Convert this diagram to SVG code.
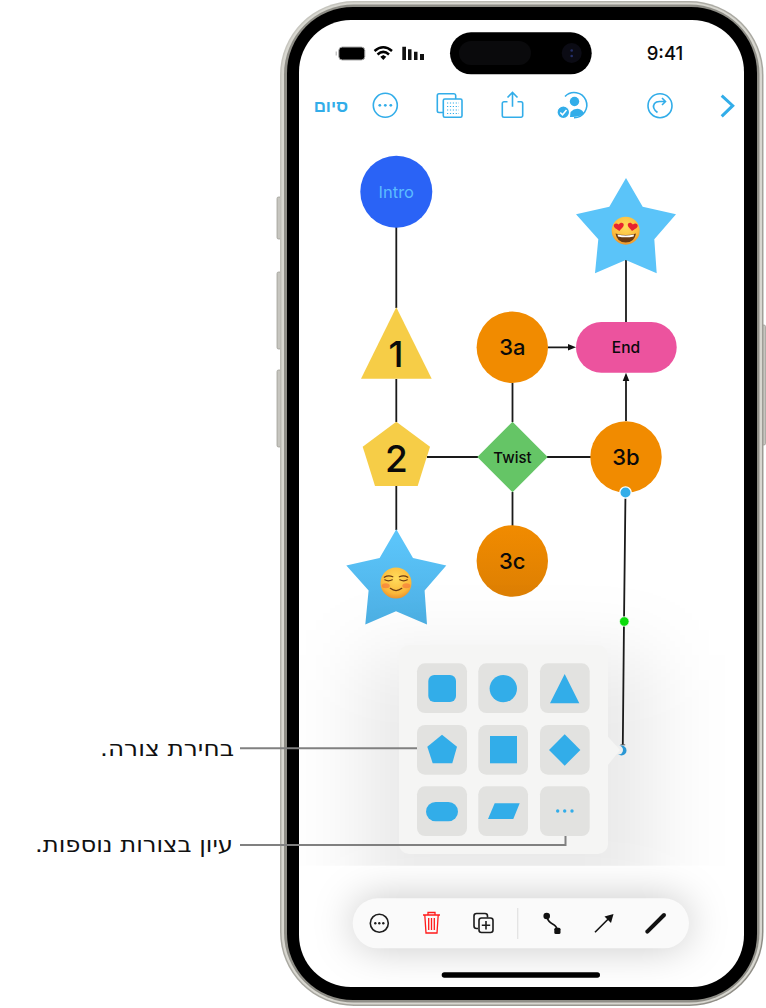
<svg xmlns="http://www.w3.org/2000/svg" width="766" height="1008" viewBox="0 0 766 1008">
<style>
.ln{stroke:#1a1a1a;stroke-width:1.8;fill:none}
.lead{stroke:#808080;stroke-width:2;fill:none}
.lbl{font-family:Inter,"Liberation Sans",sans-serif;text-anchor:middle;fill:#0a0a0a}
.he{font-family:"DejaVu Sans",sans-serif;font-size:22px;fill:#111;direction:rtl;text-anchor:start}
.btn{fill:#e2e2e0}
.ic{fill:#32ade9}
.ol{fill:none;stroke:#32ade9;stroke-width:1.6}
.bk{fill:none;stroke:#1c1c1c;stroke-width:1.6}
.star{fill:#5bc4f9}
.side{fill:#c6c5bf;stroke:#97958e;stroke-width:.7}
</style>
<defs>
<linearGradient id="metal" x1="0" y1="0" x2="1" y2="1">
<stop offset="0" stop-color="#c9c8c1"/><stop offset=".5" stop-color="#a9a8a1"/><stop offset="1" stop-color="#8d8b84"/>
</linearGradient>
<linearGradient id="starFade" gradientUnits="userSpaceOnUse" x1="0" y1="190" x2="0" y2="275">
<stop offset="0" stop-color="#5bc4f9"/><stop offset="1" stop-color="#4cafe4"/>
</linearGradient>
<linearGradient id="c3Fade" x1="0" y1="0" x2="0" y2="1">
<stop offset="0" stop-color="#f18b00"/><stop offset="1" stop-color="#dd7f02"/>
</linearGradient>
<radialGradient id="emo" cx=".5" cy=".35" r=".7">
<stop offset="0" stop-color="#ffdc5c"/><stop offset=".7" stop-color="#fcb93a"/><stop offset="1" stop-color="#e8892a"/>
</radialGradient>
<filter id="sh1" x="-80%" y="-80%" width="260%" height="260%"><feGaussianBlur stdDeviation="38"/></filter>
<filter id="sh2" x="-30%" y="-150%" width="160%" height="400%"><feGaussianBlur stdDeviation="20"/></filter>
<clipPath id="upper"><path d="M299 72a52 52 0 0 1 52-52h341a52 52 0 0 1 52 52V865.700H299Z"/></clipPath>
<clipPath id="lower"><path d="M299 865.700H744V935a52 52 0 0 1-52 52H351a52 52 0 0 1-52-52Z"/></clipPath>
<path id="starP" d="M626 178 642.700 206.700 676 214.300 654.300 239.300 656.700 273.300 625.700 260 595 273.300 598.300 239.300 576 214.300 609.300 206.700Z"/>
<path id="heart" d="M0 4C-1.800 2.300-5 .6-5-1.700-5-3.800-2.200-4.800 0-2.500 2.200-4.800 5-3.800 5-1.700 5 .6 1.800 2.300 0 4Z"/>
</defs>

<g id="phone">
<rect class="side" x="277" y="197" width="5" height="42" rx="1.500"/>
<rect class="side" x="277" y="272" width="5" height="77" rx="1.500"/>
<rect class="side" x="277" y="370" width="5" height="77" rx="1.500"/>
<rect class="side" x="761" y="325" width="4.500" height="120" rx="1.500"/>
<rect x="280" y="1" width="483.500" height="1005" rx="74" fill="url(#metal)"/>
<rect x="281.500" y="2.500" width="480.500" height="1002" rx="72.500" fill="#d8d7d0"/>
<rect x="284" y="4.500" width="475.500" height="998" rx="70" fill="#8f8e87"/>
<rect x="287" y="7" width="470" height="993" rx="66" fill="#000"/>
<rect x="299" y="20" width="445" height="967" rx="52" fill="#fff"/>
</g>

<g id="connectors">
<path class="ln" d="M396.300 227V308M396.300 379V422M396.300 486V530M427 457H478M547 457H591M512.500 383V422M512.500 492V526M626 260V322M548 347.300H568M626 421V381"/>
<path d="M576 347.300 568 344V350.600ZM626 372.700 622.700 381H629.300Z" fill="#111"/>
</g>

<g id="node-intro"><circle cx="396.300" cy="191.700" r="36" fill="#2a63f6"/><text class="lbl" x="396.300" y="198" font-size="16.500" style="fill:#5cbcff">Intro</text></g>
<g id="node-1"><path d="M396.300 307.300 431.700 378.700H361Z" fill="#f6cd47"/><text class="lbl" x="396" y="367" font-size="36" font-weight="550">1</text></g>
<g id="node-2"><path d="M396.300 421.700 430 446.700 417.700 486H375L362.700 446.700Z" fill="#f6cd47"/><text class="lbl" x="396.300" y="472" font-size="37" font-weight="550">2</text></g>
<g id="node-3a"><circle cx="512.300" cy="347.300" r="35.700" fill="#f18b00"/><text class="lbl" x="512.300" y="355" font-size="22" font-weight="550">3a</text></g>
<g id="node-3b"><circle cx="626" cy="457" r="35.700" fill="#f18b00"/><text class="lbl" x="626" y="465" font-size="22" font-weight="550">3b</text></g>
<g id="node-3c"><circle cx="512.300" cy="561" r="35.700" fill="url(#c3Fade)"/><text class="lbl" x="512.300" y="569" font-size="22" font-weight="550">3c</text></g>
<g id="node-twist"><path d="M512.500 421.700 547.700 457 512.500 492.300 477.300 457Z" fill="#65c566"/><text class="lbl" x="512.500" y="462.500" font-size="15" font-weight="550">Twist</text></g>
<g id="node-end"><rect x="576" y="322" width="100.700" height="50.700" rx="25.300" fill="#ec539e"/><text class="lbl" x="626" y="353" font-size="15.500" font-weight="550">End</text></g>
<g id="node-star-top">
<use href="#starP" class="star"/>
<circle cx="625.700" cy="230.700" r="14" fill="url(#emo)"/>
<use href="#heart" x="619" y="227" fill="#e8232f" transform="rotate(-8 619 227)"/>
<use href="#heart" x="632.500" y="227" fill="#e8232f" transform="rotate(8 632.500 227)"/>
<path d="M615.500 233.500Q625.700 236.500 636 233.500 634.500 242.500 625.700 242.500 617 242.500 615.500 233.500Z" fill="#6b3a12"/>
<path d="M617.500 234.500Q625.700 236.500 634 234.500L633.600 236.500Q625.700 238.200 618 236.500Z" fill="#fff"/>
</g>
<g id="node-star-bottom" transform="translate(-229.700 351.300)">
<use href="#starP" fill="url(#starFade)"/>
<circle cx="625.700" cy="231.700" r="15.500" fill="url(#emo)"/>
<path d="M614 226Q618 223.500 622.500 225.500M629 225.500Q633.500 223.500 637.500 226M614.500 228.500Q618 230.500 622 228.500M629.500 228.500Q633.500 230.500 637 228.500M620 237Q625.700 241.500 631.500 237" fill="none" stroke="#6b3a12" stroke-width="1.200" stroke-linecap="round"/>
<ellipse cx="615.500" cy="234.500" rx="4" ry="2.500" fill="#f5713b" opacity=".6"/>
<ellipse cx="636" cy="234.500" rx="4" ry="2.500" fill="#f5713b" opacity=".6"/>
</g>

<g id="shadows">
<g clip-path="url(#upper)"><rect x="360" y="655" width="295" height="255" fill="#000" fill-opacity=".085" filter="url(#sh1)"/></g>
<g clip-path="url(#lower)"><rect x="353" y="898" width="336" height="50" rx="25" fill="#000" fill-opacity=".22" filter="url(#sh2)"/></g>
</g>

<g id="selected-connector">
<path class="ln" d="M625.500 492 624 621 622.800 745"/>
<path d="M620.500 744.800H625.200" stroke="#666" stroke-width="1"/>
<circle cx="621.500" cy="750.500" r="5" fill="#2a97d4"/>
<circle cx="618.500" cy="750" r="4.500" fill="#efefee"/>
<circle cx="625.500" cy="492.500" r="5.700" fill="#32ade9" stroke="#fff" stroke-width="1.300"/>
<circle cx="624.300" cy="621.500" r="4.800" fill="#0cdc0c" stroke="#fff" stroke-width=".8"/>
</g>

<g id="shape-picker">
<path d="M409 645H598a10 10 0 0 1 10 10V736.700L620 750 608 765V844a10 10 0 0 1-10 10H409a10 10 0 0 1-10-10V655a10 10 0 0 1 10-10Z" fill="#f5f5f4"/>
<rect class="btn" x="417" y="663.300" width="50" height="49.700" rx="8"/>
<rect class="btn" x="478.300" y="663.300" width="49.700" height="49.700" rx="8"/>
<rect class="btn" x="540" y="663.300" width="49.700" height="49.700" rx="8"/>
<rect class="btn" x="417" y="725" width="50" height="49.700" rx="8"/>
<rect class="btn" x="478.300" y="725" width="49.700" height="49.700" rx="8"/>
<rect class="btn" x="540" y="725" width="49.700" height="49.700" rx="8"/>
<rect class="btn" x="417" y="786.300" width="50" height="49.700" rx="8"/>
<rect class="btn" x="478.300" y="786.300" width="49.700" height="49.700" rx="8"/>
<rect class="btn" x="540" y="786.300" width="49.700" height="49.700" rx="8"/>
<rect class="ic" x="428.300" y="675" width="27.700" height="27" rx="6"/>
<circle class="ic" cx="503.300" cy="688.600" r="13.700"/>
<path class="ic" d="M564.700 674 579.300 703.300H550Z"/>
<path class="ic" d="M442 734.700 457 746.700 452.300 763.300H432.700L427.300 746.700Z"/>
<rect class="ic" x="490" y="736" width="27" height="27.300"/>
<path class="ic" d="M564.700 734.300 580.400 750 564.700 765.700 549 750Z"/>
<rect class="ic" x="426" y="802" width="32" height="19.300" rx="9.650"/>
<path class="ic" d="M494.700 803.300H519.700L513.300 819H488Z"/>
<circle class="ic" cx="557.700" cy="811" r="1.700"/><circle class="ic" cx="564.700" cy="811" r="1.700"/><circle class="ic" cx="572" cy="811" r="1.700"/>
</g>

<g id="bottom-toolbar">
<rect x="352.700" y="898.300" width="336.300" height="50" rx="25" fill="#fafafa"/>
<circle class="bk" cx="379.300" cy="923.300" r="9"/>
<circle cx="375.300" cy="923.300" r="1.200" fill="#1c1c1c"/><circle cx="379.300" cy="923.300" r="1.200" fill="#1c1c1c"/><circle cx="383.300" cy="923.300" r="1.200" fill="#1c1c1c"/>
<path d="M423 915H440M428 915V912.500H435V915M424.800 915 426 933H437L438.200 915M428.700 918V930M431.500 918V930M434.300 918V930" fill="none" stroke="#ff1a1a" stroke-width="1.300"/>
<path class="bk" d="M478 928.500H476.500A2.500 2.500 0 0 1 474 926V916A2.500 2.500 0 0 1 476.500 913.500H485A2.500 2.500 0 0 1 487.500 916V917.500"/>
<rect class="bk" x="479" y="918" width="14" height="14.500" rx="2.500"/>
<path d="M486 921V929.500M481.800 925.300H490.200" stroke="#1c1c1c" stroke-width="1.600" fill="none"/>
<path d="M517.700 908V939" stroke="#e2e2e2" stroke-width="1.200"/>
<path d="M547 917C549 926 556 922 557.300 930" fill="none" stroke="#111" stroke-width="1.600"/>
<circle cx="546.700" cy="916" r="3.300" fill="#111"/>
<rect x="554.300" y="927.700" width="6.200" height="6.200" rx="1.500" fill="#111"/>
<path d="M595 932.300 608 919.300" stroke="#111" stroke-width="1.600" fill="none"/>
<path d="M613.500 914 604.500 916.500 611 923Z" fill="#111"/>
<path d="M647.300 931.700 664 915" stroke="#111" stroke-width="4" stroke-linecap="round" fill="none"/>
<rect x="441.700" y="972.300" width="158.300" height="5.400" rx="2.700" fill="#000"/>
</g>

<g id="status-bar">
<rect x="450" y="32.300" width="141.700" height="42" rx="21" fill="#000"/>
<rect x="459" y="41" width="72" height="24" rx="12" fill="#0a0a0c"/>
<circle cx="571.700" cy="53" r="10" fill="#0b0b14"/>
<circle cx="571.700" cy="50.500" r="1.300" fill="#25306a"/><circle cx="571.700" cy="56" r="1.300" fill="#25306a"/>
<rect x="338.800" y="47" width="26" height="13" rx="3.500" fill="#000" stroke="#a9a9a9" stroke-width="1"/>
<path d="M336.200 51.500V55.500" stroke="#aaa" stroke-width="1"/>
<path d="M374.500 51Q383.300 43.500 392 51M377.500 54.500Q383.300 49.300 389 54.500" fill="none" stroke="#000" stroke-width="2.500"/>
<path d="M380.300 56.800 383.300 55 386.300 56.800 383.300 60Z" fill="#000"/>
<path d="M402.300 46.700H406V60H402.300ZM408 49.300H411.500V60H408ZM414 51.700H417.500V60H414ZM420 54H424V60H420Z" fill="#111"/>
<text x="665" y="60" font-family="Inter,'Liberation Sans',sans-serif" font-size="18.500" font-weight="500" text-anchor="middle" fill="#0a0a0a">9:41</text>
</g>

<g id="top-toolbar">
<text x="348" y="112" font-family="'Liberation Sans',sans-serif" font-size="17" font-weight="700" fill="#32ade9" style="direction:rtl;text-anchor:start">סיום</text>
<circle class="ol" cx="385.300" cy="105.300" r="12"/>
<circle class="ic" cx="379.800" cy="105.300" r="1.400"/><circle class="ic" cx="385.300" cy="105.300" r="1.400"/><circle class="ic" cx="390.800" cy="105.300" r="1.400"/>
<path class="ol" d="M443.300 112.500H439A1.700 1.700 0 0 1 437.300 110.800V95.400A1.700 1.700 0 0 1 439 93.700H454A1.700 1.700 0 0 1 455.700 95.400V99"/>
<rect class="ol" x="443.300" y="99" width="18.700" height="18.300" rx="1.500"/>
<path d="M447 103H459M447 106.500H459M447 110H459M447 113.500H459" stroke="#32ade9" stroke-width="1.200" stroke-dasharray="1.200 1.700" fill="none"/>
<path class="ol" d="M507.500 101.700H504A1.700 1.700 0 0 0 502.300 103.400V115.600A1.700 1.700 0 0 0 504 117.300H521A1.700 1.700 0 0 0 522.700 115.600V103.400A1.700 1.700 0 0 0 521 101.700H517.500M512.500 106.700V93M507.500 97.500 512.500 92.500 517.500 97.500"/>
<path class="ol" d="M565 96.500A12.600 12.600 0 1 1 574 117.700"/>
<circle class="ic" cx="574.500" cy="101.500" r="4.700"/>
<path class="ic" d="M570 117 570.500 112Q574.500 108 579 109 583 110 584 113.500 579 117.500 570 117Z"/>
<circle cx="563.300" cy="112.300" r="6.300" fill="#32ade9" stroke="#fff" stroke-width="1.200"/>
<path d="M560.300 112.500 562.500 114.800 566.500 110" fill="none" stroke="#fff" stroke-width="1.500"/>
<circle class="ol" cx="660" cy="105.700" r="12"/>
<path class="ol" d="M657.500 112.500Q651.500 108 654.500 103.500 656 101.500 659.500 101.500H665M662 98 665.500 101.500 662 105"/>
<path d="M721.700 95.700 732.700 105.700 721.700 116.300" fill="none" stroke="#32ade9" stroke-width="3"/>
</g>

<g id="callouts">
<path class="lead" d="M240 748.300H417"/>
<path class="lead" d="M240 845H565.500V836"/>
<text class="he" x="234" y="756" textLength="134" lengthAdjust="spacingAndGlyphs">בחירת צורה.</text>
<text class="he" x="233" y="852" textLength="198" lengthAdjust="spacingAndGlyphs">עיון בצורות נוספות.</text>
</g>
</svg>
